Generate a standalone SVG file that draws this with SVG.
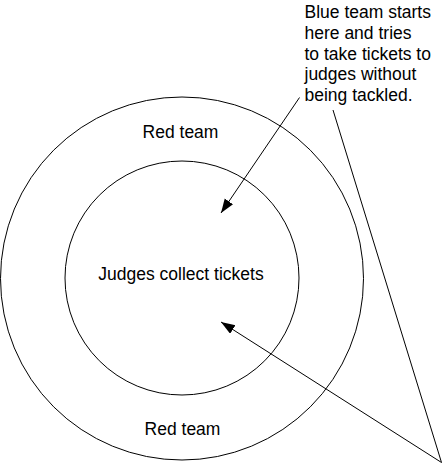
<svg xmlns="http://www.w3.org/2000/svg" width="442" height="464" viewBox="0 0 442 464">
  <style>
    .shape { fill: none; stroke: #000; stroke-width: 1; }
    .lbl { font-family: "Liberation Sans", Arial, sans-serif; font-size: 17.5px; fill: #000; }
    .mid { text-anchor: middle; }
    .conn { fill: none; stroke: #000; stroke-width: 1; }
  </style>
  <defs>
    <marker id="arrow" markerUnits="userSpaceOnUse" markerWidth="15" markerHeight="11" refX="14" refY="5" orient="auto">
      <path d="M0,0 L14,5 L0,10 z" fill="#000"/>
    </marker>
  </defs>
  <rect x="0" y="0" width="442" height="464" fill="#fff"/>
  <g id="red-team">
    <circle class="shape" cx="182" cy="278.5" r="181.5"/>
    <text class="lbl mid" x="180.5" y="137.5">Red team</text>
    <text class="lbl mid" x="182.5" y="435">Red team</text>
  </g>
  <g id="judges">
    <circle class="shape" cx="182" cy="278" r="117"/>
    <text class="lbl mid" x="181" y="280">Judges collect tickets</text>
  </g>
  <g id="blue-team-note">
    <text class="lbl" x="304.5" y="18">Blue team starts</text>
    <text class="lbl" x="304.5" y="38.8">here and tries</text>
    <text class="lbl" x="304.5" y="59.6">to take tickets to</text>
    <text class="lbl" x="304.5" y="80.4">judges without</text>
    <text class="lbl" x="304.5" y="101.2">being tackled.</text>
  </g>
  <g id="connectors">
    <line class="conn" x1="299.5" y1="97.5" x2="221" y2="213" marker-end="url(#arrow)"/>
    <line class="conn" x1="441.5" y1="462.5" x2="221" y2="322" marker-end="url(#arrow)"/>
    <line class="conn" x1="441.5" y1="462.5" x2="333" y2="110"/>
  </g>
</svg>
